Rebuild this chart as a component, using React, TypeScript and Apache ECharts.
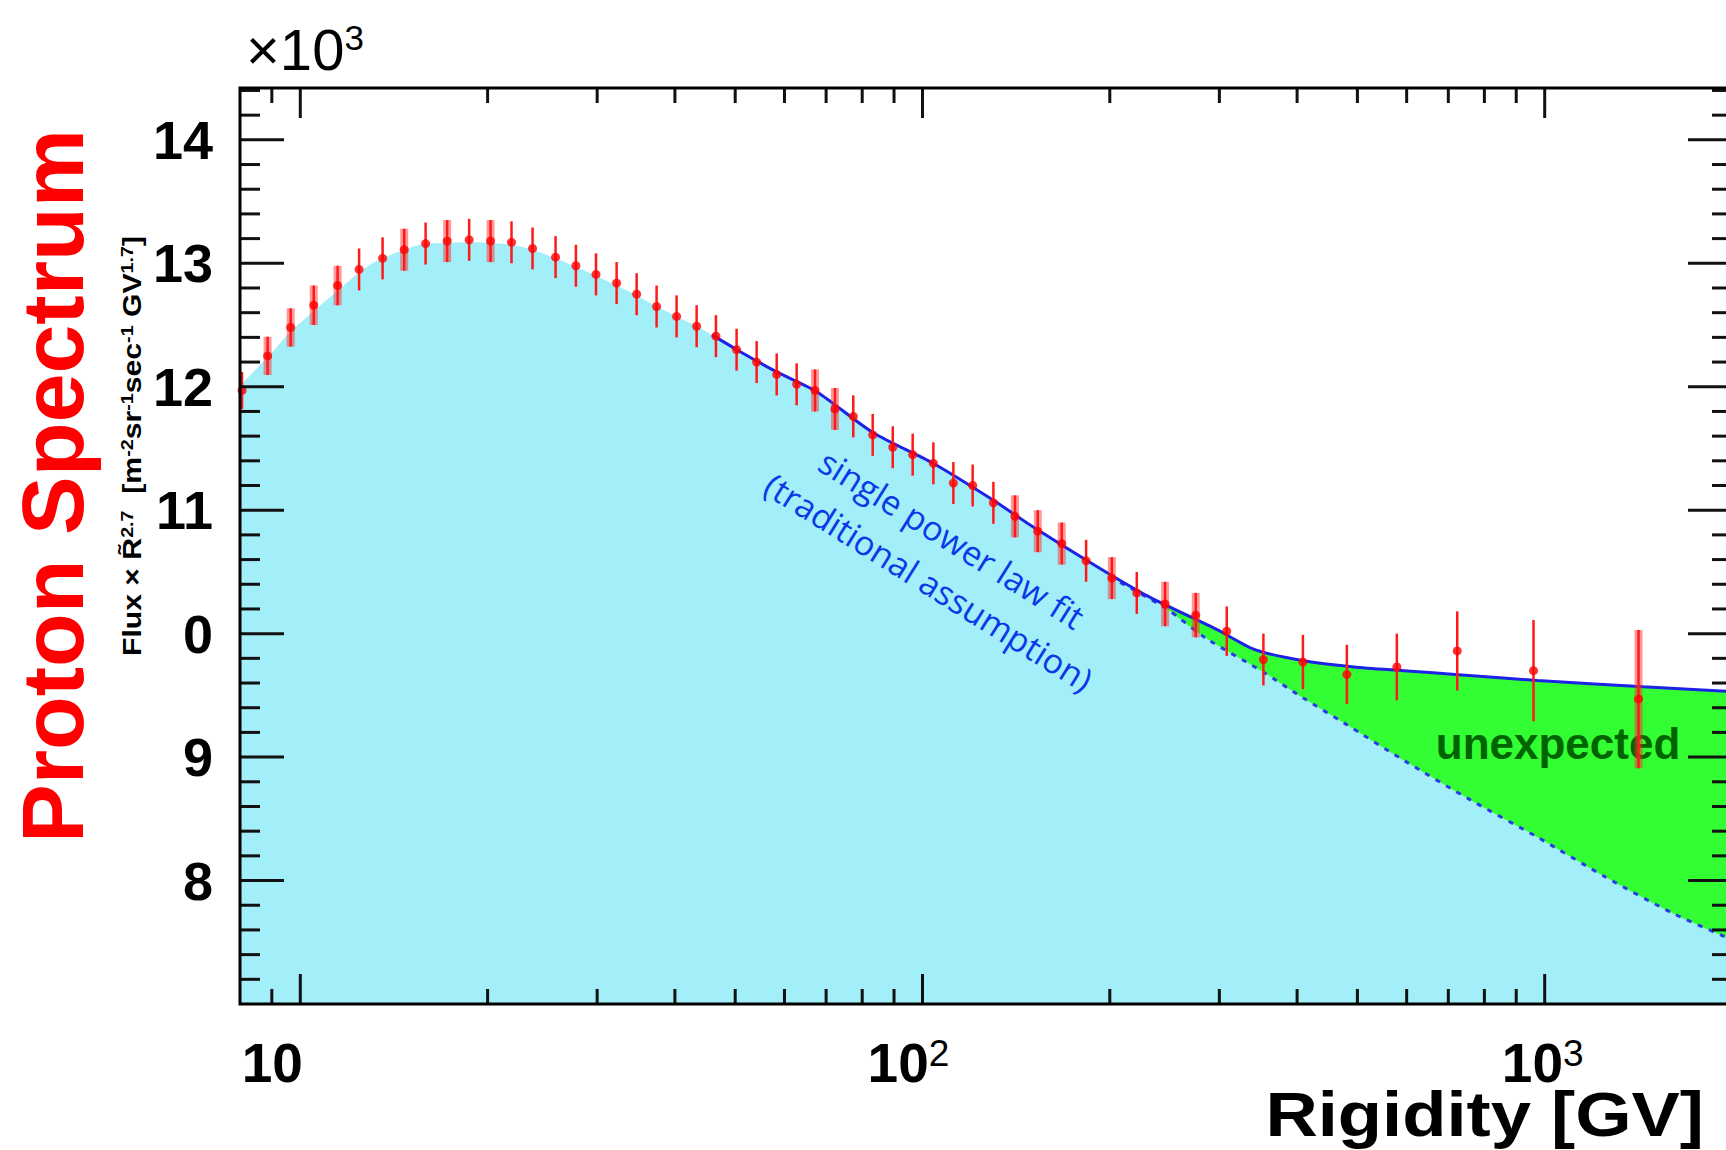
import React, { useEffect, useRef } from "react";
import * as echarts from "echarts";

// Measured proton flux (scaled by R^2.7, in units of 10^3)
const rigidity = [
  8.06, 8.86, 9.65, 10.51, 11.48, 12.43, 13.56, 14.69, 15.9, 17.22, 18.68, 20.22, 21.85, 23.62,
  25.72, 27.73, 29.87, 32.24, 34.72, 37.38, 40.25, 43.35, 46.56, 50.26, 54.13, 58.3, 62.77, 67.18,
  72.33, 77.4, 83.17, 89.58, 96.43, 104.1, 112.1, 120.4, 130.0, 140.8, 153.2, 167.4, 183.2, 201.5,
  221.0, 245.4, 274.9, 308.3, 353.1, 408.7, 480.9, 578.6, 723.5, 959.4, 1415,
];
const flux = [
  11.97, 12.25, 12.48, 12.66, 12.82, 12.95, 13.04, 13.11, 13.16, 13.18, 13.19, 13.18, 13.17, 13.12,
  13.05, 12.98, 12.91, 12.84, 12.75, 12.65, 12.57, 12.49, 12.41, 12.3, 12.2, 12.1, 12.02, 11.97,
  11.82, 11.76, 11.61, 11.51, 11.45, 11.38, 11.22, 11.2, 11.06, 10.95, 10.83, 10.73, 10.59, 10.45,
  10.33, 10.24, 10.15, 10.02, 9.79, 9.77, 9.67, 9.73, 9.86, 9.7, 9.47,
];
const fluxErr = [
  0.15, 0.155, 0.155, 0.16, 0.16, 0.17, 0.17, 0.17, 0.17, 0.17, 0.17, 0.17, 0.17, 0.17,
  0.17, 0.17, 0.17, 0.17, 0.17, 0.17, 0.17, 0.17, 0.17, 0.17, 0.17, 0.17, 0.17, 0.17,
  0.17, 0.17, 0.17, 0.17, 0.17, 0.17, 0.17, 0.17, 0.17, 0.17, 0.17, 0.17, 0.17, 0.17,
  0.17, 0.18, 0.18, 0.2, 0.21, 0.22, 0.24, 0.27, 0.32, 0.41, 0.56,
];
// 1 where the wider, translucent systematic band is drawn
const sysBand = [
  0, 1, 1, 1, 1, 0, 0, 1, 0, 1, 0, 1, 0, 0,
  0, 0, 0, 0, 0, 0, 0, 0, 0, 0, 0, 0, 0, 1,
  1, 0, 0, 0, 0, 0, 0, 0, 0, 1, 1, 1, 0, 1,
  0, 1, 1, 0, 0, 0, 0, 0, 0, 0, 1,
];

// Smooth model below the fitted range
const modelLowX = [8, 8.865, 9.62, 10.55, 11.49, 12.46, 13.17, 14.68, 15.92, 17.2, 18.67, 20.25, 21.88, 23.63, 25.72, 27.73, 29.87, 32.24, 34.72, 37.38, 40.25, 43.35];
const modelLowY = [12.01, 12.24, 12.44, 12.62, 12.78, 12.93, 13.01, 13.11, 13.16, 13.165, 13.17, 13.165, 13.15, 13.11, 13.04, 12.97, 12.9, 12.82, 12.74, 12.65, 12.57, 12.49];

// Fit with spectral hardening (solid blue)
const brokenFitX = [45.9, 50.3, 58.3, 67.6, 83.2, 104, 130, 150, 192.6, 231, 298, 342, 410, 493, 594, 718, 974, 1441, 2000];
const brokenFitY = [12.42, 12.3, 12.12, 11.96, 11.63, 11.38, 11.08, 10.87, 10.53, 10.3, 10.03, 9.87, 9.78, 9.73, 9.7, 9.67, 9.62, 9.57, 9.53];

// Single power law (dashed blue)
const singleFitX = [200, 247, 285.6, 353, 410, 477, 594, 762, 974, 1254, 1611, 2000];
const singleFitY = [10.46, 10.2, 9.962, 9.689, 9.476, 9.273, 8.973, 8.649, 8.351, 8.027, 7.732, 7.52];

const xMajorTicks = [10, 100, 1000];
const xMinorTicks = [9, 20, 30, 40, 50, 60, 70, 80, 90, 200, 300, 400, 500, 600, 700, 800, 900];
const yMajorTicks = [8, 9, 10, 11, 12, 13, 14];
const yTickLabels = ["8", "9", "0", "11", "12", "13", "14"];

const X_MIN = 8;
const X_MAX = 2000;
const Y_MIN = 7;
const Y_MAX = 14.42;

const ROOT_FONT = '"Liberation Sans", Arial, Helvetica, sans-serif';

function pairs(xs: number[], ys: number[]) {
  return xs.map((x, i) => [x, ys[i]]);
}

export default function App() {
  const ref = useRef<HTMLDivElement>(null);

  useEffect(() => {
    if (!ref.current) return;
    const chart = echarts.init(ref.current, undefined, { renderer: "svg" });

    const splitAt = 240;
    const cyanEdge = [
      ...pairs(modelLowX, modelLowY),
      ...pairs(brokenFitX, brokenFitY).filter((p) => p[0] < splitAt),
      ...pairs(singleFitX, singleFitY).filter((p) => p[0] >= splitAt),
    ];
    const greenEdge = pairs(brokenFitX, brokenFitY).filter((p) => p[0] >= 190);

    const yMinorTicks: number[] = [];
    for (let m = Y_MIN; m < Y_MAX; m += 1) {
      for (let k = 1; k < 5; k++) {
        const v = +(m + k * 0.2).toFixed(2);
        if (v < Y_MAX) yMinorTicks.push(v);
      }
    }

    const tickData: number[][] = [];
    xMajorTicks.forEach((v) => tickData.push([v, Y_MIN, 30, 0], [v, Y_MAX, 30, 1]));
    xMinorTicks.forEach((v) => tickData.push([v, Y_MIN, 15, 0], [v, Y_MAX, 15, 1]));
    yMajorTicks.forEach((v) => tickData.push([X_MIN, v, 44, 2], [X_MAX, v, 44, 3]));
    yMinorTicks.forEach((v) => tickData.push([X_MIN, v, 20, 2], [X_MAX, v, 20, 3]));
    const dirs = [
      [0, -1],
      [0, 1],
      [1, 0],
      [-1, 0],
    ];

    const option: any = {
      animation: false,
      backgroundColor: "#ffffff",
      grid: {
        left: 240,
        top: 88,
        right: -6,
        bottom: 146,
        show: false,
        outerBoundsMode: "none",
      },
      xAxis: {
        type: "log",
        logBase: 10,
        min: X_MIN,
        max: X_MAX,
        axisLine: { show: false },
        axisTick: { show: false },
        minorTick: { show: false },
        splitLine: { show: false },
        axisLabel: {
          margin: 31,
          color: "#000",
          formatter: (v: number) => {
            const e = Math.log10(v);
            const k = Math.round(e);
            if (Math.abs(e - k) > 1e-6 || k < 1 || k > 3) return "";
            if (k === 1) return "{b|10}{p1| }";
            return `{b|10}{s|${k}}{p${k}| }`;
          },
          rich: {
            b: { fontSize: 55, fontWeight: "bold", fontFamily: ROOT_FONT, color: "#000", lineHeight: 56 },
            s: { fontSize: 37, fontFamily: ROOT_FONT, color: "#000", lineHeight: 6, verticalAlign: "top" },
            p1: { width: 56 },
            p2: { width: 28 },
            p3: { width: 4 },
          },
        },
      },
      yAxis: {
        type: "value",
        min: Y_MIN,
        max: Y_MAX,
        interval: 1,
        axisLine: { show: false },
        axisTick: { show: false },
        splitLine: { show: false },
        axisLabel: {
          margin: 27,
          color: "#000",
          fontSize: 54,
          fontWeight: "bold",
          fontFamily: ROOT_FONT,
          padding: [0, 0, 14, 0],
          formatter: (v: number) => {
            const i = yMajorTicks.findIndex((t) => Math.abs(t - v) < 1e-6);
            return i < 0 ? "" : yTickLabels[i];
          },
        },
      },
      series: [
        {
          name: "excess",
          type: "line",
          z: 1,
          data: greenEdge,
          smooth: 0.25,
          showSymbol: false,
          lineStyle: { width: 0 },
          areaStyle: { color: "#33fd33", opacity: 1, origin: "start" },
        },
        {
          name: "model",
          type: "line",
          z: 2,
          data: cyanEdge,
          smooth: 0.25,
          showSymbol: false,
          lineStyle: { width: 0 },
          areaStyle: { color: "#a2eef9", opacity: 1, origin: "start" },
        },
        {
          name: "single power law",
          type: "line",
          z: 3,
          data: pairs(singleFitX, singleFitY),
          smooth: 0.25,
          showSymbol: false,
          lineStyle: { width: 3, color: "#2a3ae8", type: [5, 7] },
        },
        {
          name: "fit",
          type: "line",
          z: 3,
          data: pairs(brokenFitX, brokenFitY),
          smooth: 0.25,
          showSymbol: false,
          lineStyle: { width: 3, color: "#1c22e6" },
        },
        {
          name: "errors",
          type: "custom",
          z: 4,
          clip: false,
          data: rigidity.map((x, i) => [x, flux[i], fluxErr[i], sysBand[i]]),
          renderItem: (_params: any, api: any) => {
            const x = api.value(0);
            const y = api.value(1);
            const e = api.value(2);
            const top = api.coord([x, y + e]);
            const bot = api.coord([x, y - e]);
            const children: any[] = [];
            if (api.value(3) === 1) {
              children.push({
                type: "rect",
                shape: { x: top[0] - 4, y: top[1], width: 8, height: bot[1] - top[1] },
                style: { fill: "rgba(255,40,40,0.48)" },
              });
            }
            children.push({
              type: "line",
              shape: { x1: top[0], y1: top[1], x2: bot[0], y2: bot[1] },
              style: { stroke: "#ff1a1a", lineWidth: 2.5 },
            });
            return { type: "group", children };
          },
        },
        {
          name: "data",
          type: "scatter",
          z: 5,
          data: pairs(rigidity, flux),
          symbol: "circle",
          symbolSize: 9,
          itemStyle: { color: "#ff0000" },
        },
        {
          name: "ticks",
          type: "custom",
          z: 6,
          clip: false,
          silent: true,
          data: tickData,
          renderItem: (_params: any, api: any) => {
            const p = api.coord([api.value(0), api.value(1)]);
            const len = api.value(2);
            const d = dirs[api.value(3)];
            return {
              type: "line",
              shape: { x1: p[0], y1: p[1], x2: p[0] + d[0] * len, y2: p[1] + d[1] * len },
              style: { stroke: "#111", lineWidth: 3 },
            };
          },
        },
        {
          name: "frame",
          type: "custom",
          z: 7,
          clip: false,
          silent: true,
          data: [[X_MIN, Y_MAX]],
          renderItem: (_params: any, api: any) => {
            const a = api.coord([X_MIN, Y_MAX]);
            const b = api.coord([X_MAX, Y_MIN]);
            return {
              type: "rect",
              shape: { x: a[0], y: a[1], width: b[0] - a[0], height: b[1] - a[1] },
              style: { fill: "none", stroke: "#000", lineWidth: 3 },
            };
          },
        },
      ],
      graphic: [
        {
          type: "text",
          x: 52,
          y: 486,
          rotation: Math.PI / 2,
          z: 10,
          style: {
            text: "Proton Spectrum",
            fill: "#ff0000",
            fontSize: 88,
            fontWeight: "bold",
            fontFamily: ROOT_FONT,
            align: "center",
            verticalAlign: "middle",
          },
        },
        {
          type: "text",
          x: 132,
          y: 446,
          rotation: Math.PI / 2,
          scaleX: 1.16,
          z: 10,
          style: {
            text: "{n|Flux × R\u0303}{s|2.7}{n|  [m}{s|-2}{n|sr}{s|-1}{n|sec}{s|-1}{n| GV}{s|1.7}{n|]}",
            align: "center",
            verticalAlign: "middle",
            rich: {
              n: { fontSize: 26, fontWeight: "bold", fontFamily: ROOT_FONT, fill: "#000", lineHeight: 27 },
              s: { fontSize: 17, fontWeight: "bold", fontFamily: ROOT_FONT, fill: "#000", lineHeight: 4, verticalAlign: "top" },
            },
          },
        },
        {
          type: "text",
          x: 246,
          y: 49,
          z: 10,
          style: {
            text: "{a|×10}{b|3}",
            align: "left",
            verticalAlign: "middle",
            rich: {
              a: { fontSize: 58, fontFamily: ROOT_FONT, fill: "#000", lineHeight: 58 },
              b: { fontSize: 35, fontFamily: ROOT_FONT, fill: "#000", lineHeight: 12, verticalAlign: "top" },
            },
          },
        },
        {
          type: "text",
          x: 1704,
          y: 1114,
          scaleX: 1.15,
          z: 10,
          style: {
            text: "Rigidity [GV]",
            fill: "#000",
            fontSize: 63,
            fontWeight: "bold",
            fontFamily: ROOT_FONT,
            align: "right",
            verticalAlign: "middle",
          },
        },
        {
          type: "text",
          x: 952,
          y: 539,
          rotation: (-32 * Math.PI) / 180,
          z: 3,
          style: {
            text: "single power law fit",
            fill: "#0a3ae8",
            fontSize: 34,
            fontFamily: '"Open Sans", sans-serif',
            align: "center",
            verticalAlign: "middle",
          },
        },
        {
          type: "text",
          x: 929,
          y: 582,
          rotation: (-32 * Math.PI) / 180,
          z: 3,
          style: {
            text: "(traditional assumption)",
            fill: "#0a3ae8",
            fontSize: 34,
            fontFamily: '"Open Sans", sans-serif',
            align: "center",
            verticalAlign: "middle",
          },
        },
        {
          type: "text",
          x: 1558,
          y: 743,
          z: 3,
          style: {
            text: "unexpected",
            fill: "#006400",
            fontSize: 44,
            fontWeight: "bold",
            fontFamily: ROOT_FONT,
            align: "center",
            verticalAlign: "middle",
          },
        },
      ],
    };

    chart.setOption(option);
    return () => chart.dispose();
  }, []);

  return (
    <div
      ref={ref}
      style={{ position: "fixed", left: 0, top: 0, width: 1726, height: 1150, background: "#fff" }}
    />
  );
}
